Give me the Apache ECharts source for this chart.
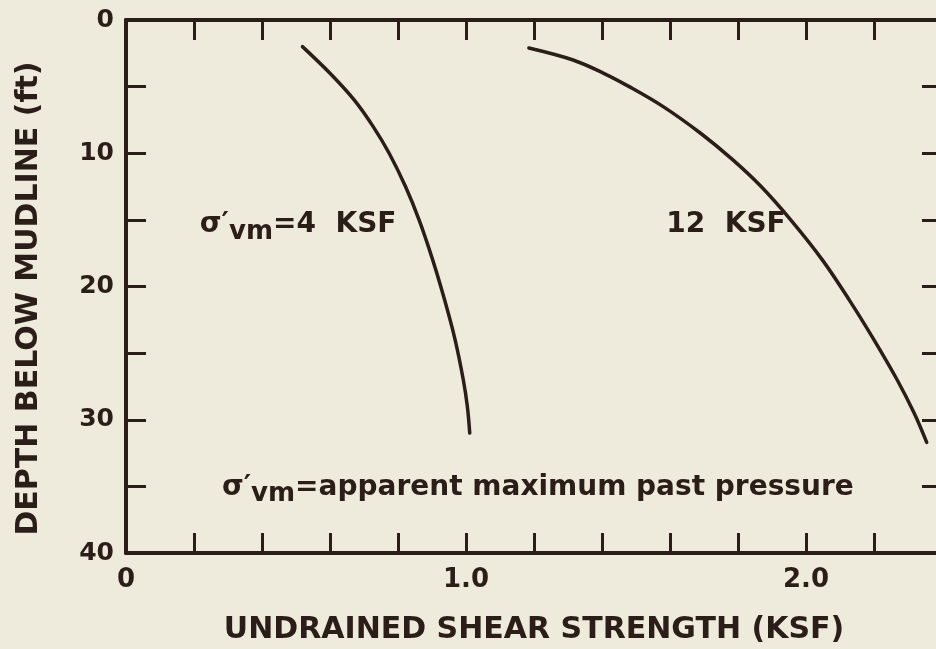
<!DOCTYPE html>
<html>
<head>
<meta charset="utf-8">
<script src="https://cdn.jsdelivr.net/npm/echarts@6/dist/echarts.min.js"></script>
<style>
  html, body { margin: 0; padding: 0; background: #efebdc; }
  #chart { width: 936px; height: 649px; }
</style>
</head>
<body>
<div id="chart"></div>
<script>
// Undrained shear strength (KSF) versus depth below mudline (ft)
const curve4ksf = [
  [0.519, 2.0], [0.600, 4.0], [0.671, 6.0], [0.727, 8.0], [0.774, 10.0],
  [0.822, 12.5], [0.862, 15.0], [0.902, 18.0], [0.937, 21.0], [0.968, 24.0],
  [0.992, 27.0], [1.004, 29.0], [1.011, 31.0]
];
const curve12ksf = [
  [1.185, 2.1], [1.315, 3.0], [1.405, 4.0], [1.480, 5.0], [1.580, 6.5],
  [1.690, 8.5], [1.785, 10.5], [1.868, 12.5], [1.955, 15.0], [2.048, 18.0],
  [2.127, 21.0], [2.200, 24.0], [2.268, 27.0], [2.318, 29.5], [2.355, 31.7]
];
const xLabels = { 0: '0', 1: '1.0', 2: '2.0' };
const yLabels = [0, 10, 20, 30, 40];
const notes = [
  { at: [0.217, 15.4], text: '{a|σ′}{s|vm}{a|=4  KSF}' },
  { at: [1.589, 15.4], text: '{a|12  KSF}' },
  { at: [0.282, 35.1], text: '{a|σ′}{s|vm}{a|=apparent maximum past pressure}' }
];

const ink = '#2b1d17';
const font = 'DejaVu Sans';

const chart = echarts.init(document.getElementById('chart'), null, { renderer: 'canvas' });

const tickStyle = { show: true, inside: true, length: 20, lineStyle: { color: ink, width: 3 } };
const lineStyle = { show: true, onZero: false, lineStyle: { color: ink, width: 4 } };

function xAxisBase(pos) {
  return {
    type: 'value', position: pos, min: 0, max: 2.4, interval: 0.2,
    axisLine: lineStyle, axisTick: tickStyle, splitLine: { show: false }
  };
}
function yAxisBase(pos) {
  return {
    type: 'value', position: pos, inverse: true, min: 0, max: 40, interval: 5,
    axisLine: lineStyle, axisTick: tickStyle, splitLine: { show: false }
  };
}

const richStyles = {
  a: { fontFamily: font, fontWeight: 'bold', fontSize: 28, color: ink, lineHeight: 40 },
  s: { fontFamily: font, fontWeight: 'bold', fontSize: 26, color: ink, lineHeight: 26, verticalAlign: 'bottom' }
};

chart.setOption({
  backgroundColor: '#efebdc',
  animation: false,
  grid: { left: 126, top: 20, width: 816, height: 533, containLabel: false, outerBoundsMode: 'none' },
  xAxis: [
    Object.assign(xAxisBase('bottom'), {
      name: 'UNDRAINED SHEAR STRENGTH (KSF)',
      nameLocation: 'middle',
      nameGap: 62,
      nameTextStyle: { fontFamily: font, fontWeight: 'bold', fontSize: 30, color: ink },
      axisLabel: {
        show: true, margin: 14, color: ink, fontFamily: font, fontWeight: 'bold', fontSize: 26,
        formatter: function (v) {
          const r = Math.round(v);
          return Math.abs(v - r) < 1e-6 && xLabels[r] !== undefined ? xLabels[r] : '';
        }
      }
    }),
    Object.assign(xAxisBase('top'), { axisLabel: { show: false } })
  ],
  yAxis: [
    Object.assign(yAxisBase('left'), {
      name: 'DEPTH BELOW MUDLINE (ft)',
      nameLocation: 'middle',
      nameGap: 82,
      nameRotate: 90,
      nameTextStyle: { fontFamily: font, fontWeight: 'bold', fontSize: 30, color: ink, padding: [0, 24, 0, 0] },
      axisLabel: {
        show: true, margin: 12, color: ink, fontFamily: font, fontWeight: 'bold', fontSize: 25,
        formatter: function (v) {
          const r = Math.round(v);
          return Math.abs(v - r) < 1e-6 && yLabels.indexOf(r) >= 0 ? String(r) : '';
        }
      }
    }),
    Object.assign(yAxisBase('right'), { axisLabel: { show: false } })
  ],
  series: [
    {
      name: '4 KSF', type: 'line', data: curve4ksf, smooth: 0.35, showSymbol: false,
      lineStyle: { color: ink, width: 3.5, cap: 'round' }, silent: true
    },
    {
      name: '12 KSF', type: 'line', data: curve12ksf, smooth: 0.35, showSymbol: false,
      lineStyle: { color: ink, width: 3.5, cap: 'round' }, silent: true
    },
    {
      name: 'notes', type: 'scatter', symbolSize: 0, silent: true,
      itemStyle: { opacity: 1 },
      data: notes.map(n => ({ value: n.at, text: n.text })),
      label: {
        show: true, position: 'right', distance: 0, opacity: 1,
        formatter: p => p.data.text,
        rich: richStyles
      }
    }
  ]
});
</script>
</body>
</html>
